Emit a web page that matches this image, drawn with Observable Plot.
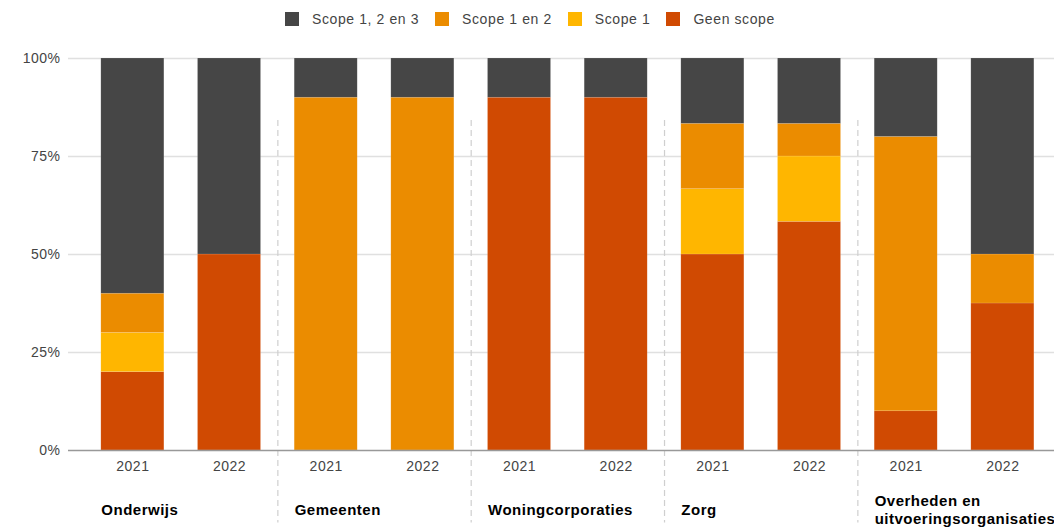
<!DOCTYPE html>
<html>
<head>
<meta charset="utf-8">
<script src="https://cdn.jsdelivr.net/npm/d3@7"></script>
<script src="https://cdn.jsdelivr.net/npm/@observablehq/plot@0.6"></script>
<style>
  html, body { margin: 0; padding: 0; background: #fff; }
  body { width: 1054px; height: 528px; overflow: hidden; font-family: "Liberation Sans", Arial, sans-serif; }
  #legend { height: 38px; display: flex; align-items: center; padding-left: 285px; box-sizing: border-box; font-size: 14px; letter-spacing: 0.6px; color: #444; }
  .item { display: flex; align-items: center; margin-right: 16px; }
  .sw { width: 14px; height: 14px; margin-right: 13px; }
  svg { display: block; }
</style>
</head>
<body>
<div id="legend"></div>
<div id="chart"></div>
<script>
const groups = ["Onderwijs", "Gemeenten", "Woningcorporaties", "Zorg", "Overheden en\nuitvoeringsorganisaties"];
const years = ["2021", "2022"];
const series = ["Scope 1, 2 en 3", "Scope 1 en 2", "Scope 1", "Geen scope"];
const colors = ["#464646", "#EB8C00", "#FFB600", "#D04A02"];
// values per bar (Onderwijs 2021, Onderwijs 2022, Gemeenten 2021, ...)
const geenScope  = [0.20, 0.50, 0.00, 0.00, 0.90, 0.90, 0.50, 0.5833, 0.10, 0.375];
const scope1     = [0.10, 0.00, 0.00, 0.00, 0.00, 0.00, 0.1667, 0.1667, 0.00, 0.00];
const scope1en2  = [0.10, 0.00, 0.90, 0.90, 0.00, 0.00, 0.1667, 0.0833, 0.70, 0.125];
const scope123   = [0.60, 0.50, 0.10, 0.10, 0.10, 0.10, 0.1667, 0.1667, 0.20, 0.50];
const yTicks = [0, 0.25, 0.5, 0.75, 1];

const bars = [];
groups.forEach((g, gi) => years.forEach((y, yi) => bars.push({group: g, year: y, key: g + "|" + y, i: gi * 2 + yi})));
const stackOrder = ["Geen scope", "Scope 1", "Scope 1 en 2", "Scope 1, 2 en 3"];
const vals = {"Geen scope": geenScope, "Scope 1": scope1, "Scope 1 en 2": scope1en2, "Scope 1, 2 en 3": scope123};
const rows = [];
for (const b of bars) for (const s of stackOrder) rows.push({key: b.key, series: s, value: vals[s][b.i]});

// legend
const leg = document.getElementById("legend");
series.forEach((s, i) => {
  const d = document.createElement("div"); d.className = "item";
  d.innerHTML = `<span class="sw" style="background:${colors[i]}"></span><span>${s}</span>`;
  leg.appendChild(d);
});

const keys = bars.map(b => b.key);
const W = 1054, mL = 68, mR = 0;
const pInner = 0.348, pOuter = 0.274;
const step = (W - mL - mR) / (keys.length - pInner + 2 * pOuter);
const bw = step * (1 - pInner);

const firsts = bars.filter(b => b.year === "2021");
const seps = bars.filter(b => b.year === "2022").slice(0, -1);

const chart = Plot.plot({
  width: W, height: 490,
  marginLeft: mL, marginRight: mR, marginTop: 20, marginBottom: 78,
  style: {fontFamily: "'Liberation Sans', Arial, sans-serif", fontSize: "14px", color: "#444", background: "#fff", letterSpacing: "0.5px"},
  x: {type: "band", domain: keys, round: false, paddingInner: pInner, paddingOuter: pOuter, align: 0.62, label: null, tickSize: 0, tickPadding: 11, tickFormat: k => k.split("|")[1]},
  y: {domain: [0, 1], ticks: yTicks, tickFormat: d => Math.round(d * 100) + "%", label: null, tickSize: 0, tickPadding: 8},
  color: {domain: series, range: colors},
  marks: [
    Plot.ruleY(yTicks.slice(1), {stroke: "#e0e0e0", strokeWidth: 1.5}),
    Plot.ruleX(seps, {x: "key", dx: step / 2, y1: 0.842, y2: -0.185, stroke: "#cfcfcf", strokeWidth: 1.2, strokeDasharray: "6,4"}),
    Plot.barY(rows, {x: "key", y: "value", fill: "series", order: stackOrder, stroke: "#fff", strokeOpacity: 0.25, strokeWidth: 0.5}),
    Plot.ruleY([0], {stroke: "#999", strokeWidth: 1.5}),
    Plot.text(firsts, {x: "key", y: 0, text: "group", dx: -bw / 2, dy: 59, textAnchor: "start", lineAnchor: "middle", lineHeight: 1.2, fontWeight: "bold", fontSize: 15, fill: "#000", style: {letterSpacing: "0.3px"}})
  ]
});
document.getElementById("chart").appendChild(chart);
</script>
</body>
</html>
